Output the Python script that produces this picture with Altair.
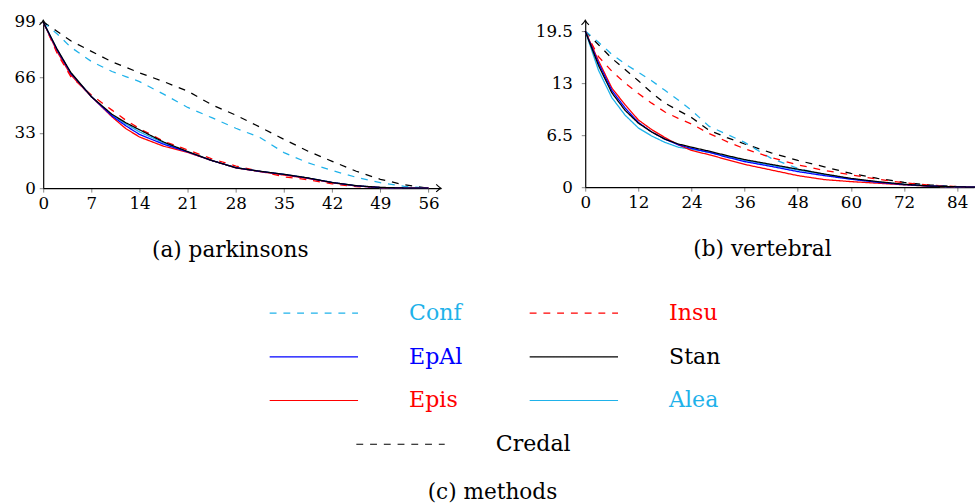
import altair as alt
import pandas as pd

FONT = "DejaVu Serif"

# Methods, in legend order, with their stroke colour and dash pattern
methods = ["Conf", "Insu", "EpAl", "Stan", "Epis", "Alea", "Credal"]
method_colors = ["#1fb2ea", "#ff0000", "#0000ff", "#000000", "#ff0000", "#1fb2ea", "#000000"]
method_dashes = [[7, 7], [7, 7], [1, 0], [1, 0], [1, 0], [1, 0], [7, 7]]
draw_order = ["Credal", "Conf", "Insu", "Alea", "Epis", "EpAl", "Stan"]

# (a) parkinsons
park_x = [0, 2, 4, 7, 10, 12, 14, 17.5, 21, 24.5, 28, 31.5, 35, 38.5, 42, 45.5, 49, 52.5, 56]
park_conf = [99, 92, 84, 75.5, 69.5, 66.5, 63.5, 56, 48.1, 42, 35.7, 30.2, 21.2, 15.1, 10.5, 6.5, 3.3, 1.1, 0]
park_insu = [99, 80.5, 66.5, 55.5, 46.5, 40.5, 35.5, 28, 22.8, 17.5, 13.2, 10, 6.8, 5, 2.6, 0.9, 0.3, 0, 0]
park_epal = [99, 82.5, 68.5, 54.5, 43, 37.2, 32, 26.2, 21.6, 16.5, 12.2, 10, 8.2, 6, 3.4, 1.4, 0.4, 0.1, 0]
park_stan = [99, 83, 69, 54.5, 44, 39, 34.8, 27.5, 21.8, 16.5, 12.2, 10.1, 8.3, 6.1, 3.4, 1.5, 0.5, 0.1, 0]
park_epis = [99, 81.5, 67.5, 54.5, 42.5, 35.5, 30.5, 25, 21.3, 16.5, 12.1, 9.9, 7.8, 5.8, 3.2, 1.3, 0.4, 0.1, 0]
park_alea = [99, 82.5, 68.5, 54.5, 43.5, 38.3, 33.5, 27, 21.6, 16.5, 12.2, 10, 8.2, 6, 3.4, 1.4, 0.4, 0.1, 0]
park_credal = [99, 93.5, 87.8, 81.5, 75.3, 72, 68.7, 63.5, 57.8, 49.7, 43.5, 36.4, 29.1, 22, 16, 10.1, 5.3, 2, 0]
park_xticks = [0, 7, 14, 21, 28, 35, 42, 49, 56]
park_yticks = [0, 33, 66, 99]

# (b) vertebral
vert_x = [0, 3, 6, 9, 12, 15, 18, 21, 24, 28, 32, 36, 42, 48, 54, 60, 66, 72, 78, 84, 88]
vert_conf = [19.5, 18.1, 16.6, 15.4, 14.35, 13.3, 12.1, 10.9, 9.6, 7.6, 6.6, 5.6, 3.6, 2.35, 1.6, 1.0, 0.6, 0.3, 0.12, 0.03, 0]
vert_insu = [19.5, 16.3, 14.5, 13.0, 11.7, 10.5, 9.4, 8.6, 7.9, 6.7, 5.7, 4.8, 3.7, 2.8, 2.1, 1.55, 1.0, 0.55, 0.25, 0.08, 0]
vert_epal = [19.5, 15.5, 12.1, 9.9, 8.1, 6.9, 6.0, 5.3, 4.85, 4.35, 3.75, 3.2, 2.6, 1.95, 1.45, 1.0, 0.62, 0.33, 0.14, 0.05, 0]
vert_stan = [19.5, 15.2, 11.8, 9.6, 8.0, 6.9, 6.0, 5.4, 5.0, 4.5, 3.95, 3.45, 2.85, 2.25, 1.65, 1.1, 0.7, 0.37, 0.15, 0.05, 0]
vert_epis = [19.5, 15.8, 12.4, 10.3, 8.4, 7.2, 6.2, 5.3, 4.6, 4.05, 3.45, 2.85, 2.15, 1.45, 0.95, 0.7, 0.5, 0.3, 0.12, 0.04, 0]
vert_alea = [19.5, 14.6, 11.2, 9.0, 7.4, 6.4, 5.6, 5.0, 4.75, 4.35, 3.85, 3.35, 2.75, 2.15, 1.6, 1.05, 0.65, 0.35, 0.14, 0.05, 0]
vert_credal = [19.5, 17.8, 16.1, 14.7, 13.3, 11.8, 10.5, 9.6, 8.7, 7.1, 6.2, 5.4, 4.3, 3.35, 2.55, 1.72, 1.1, 0.6, 0.27, 0.08, 0.02]
vert_xticks = [0, 12, 24, 36, 48, 60, 72, 84]
vert_yticks = [0, 6.5, 13, 19.5]

# Legend grid: column / row slot of each method
legend_col = [0, 1, 0, 1, 0, 1, 1 / 3]
legend_row = [0, 0, 1, 1, 2, 2, 3]

color_scale = alt.Scale(domain=methods, range=method_colors)
dash_scale = alt.Scale(domain=methods, range=method_dashes)

UP_ARROW = "M-0.8,1 Q-0.15,0.35 0,0 Q0.15,0.35 0.8,1"
RIGHT_ARROW = "M-1,-0.8 Q-0.35,-0.15 0,0 Q-0.35,0.15 -1,0.8"

AXIS_STYLE = dict(
    grid=False, labelFont=FONT, labelFontSize=17, labelColor="black",
    labelFlush=False, labelOverlap=False, labelExpr="toString(datum.value)",
    domainColor="black", domainWidth=1.2,
    tickColor="#666", tickSize=4, tickWidth=0.8,
)


def panel(xs, series, xmax, ymax, width, height, xticks, yticks,
          caption, caption_x, ylab_pad, right_arrow=True):
    rows = []
    for name, ys in series.items():
        for xv, yv in zip(xs, ys):
            rows.append({"x": xv, "y": yv, "method": name})
    df = pd.DataFrame(rows)

    x_enc = alt.X(
        "x:Q",
        scale=alt.Scale(domain=[0, xmax], nice=False, zero=False),
        axis=alt.Axis(
            values=xticks, title=caption, labelPadding=4,
            titleX=caption_x, titleAlign="center", titleFont=FONT, titleFontSize=22,
            titleFontWeight="normal", titlePadding=29, titleColor="black",
            **AXIS_STYLE,
        ),
    )
    y_enc = alt.Y(
        "y:Q",
        scale=alt.Scale(domain=[0, ymax], nice=False, zero=False),
        axis=alt.Axis(values=yticks, title=None, labelPadding=ylab_pad, **AXIS_STYLE),
    )

    layers = []
    for name in draw_order:
        layers.append(
            alt.Chart(df[df.method == name])
            .mark_line(strokeWidth=1.3)
            .encode(
                x=x_enc, y=y_enc,
                color=alt.Color("method:N", scale=color_scale, legend=None),
                strokeDash=alt.StrokeDash("method:N", scale=dash_scale, legend=None),
            )
        )

    # arrow tips at the ends of the axes
    ends = pd.DataFrame({"x": [0, xmax], "y": [ymax, 0]})
    layers.append(
        alt.Chart(ends.iloc[[0]])
        .mark_point(shape=UP_ARROW, filled=False, stroke="black", strokeWidth=1.1, size=90, opacity=1)
        .encode(x=x_enc, y=y_enc)
    )
    if right_arrow:
        layers.append(
            alt.Chart(ends.iloc[[1]])
            .mark_point(shape=RIGHT_ARROW, filled=False, stroke="black", strokeWidth=1.1, size=90, opacity=1)
            .encode(x=x_enc, y=y_enc)
        )
    return alt.layer(*layers).properties(width=width, height=height)


left = panel(
    park_x,
    {"Conf": park_conf, "Insu": park_insu, "EpAl": park_epal, "Stan": park_stan,
     "Epis": park_epis, "Alea": park_alea, "Credal": park_credal},
    57.8, 100, 405, 171, park_xticks, park_yticks,
    "(a) parkinsons", 190, 4,
)
right = panel(
    vert_x,
    {"Conf": vert_conf, "Insu": vert_insu, "EpAl": vert_epal, "Stan": vert_stan,
     "Epis": vert_epis, "Alea": vert_alea, "Credal": vert_credal},
    87.8, 20.85, 396, 170, vert_xticks, vert_yticks,
    "(b) vertebral", 180, 9, right_arrow=False,
)

# Legend block: line sample followed by the coloured method name
leg_df = pd.DataFrame({"method": methods, "col": legend_col, "row": legend_row})
lx = alt.X(
    "col:Q",
    scale=alt.Scale(domain=[-0.871, 2.679], nice=False, zero=False),
    axis=alt.Axis(
        title="(c) methods", domain=False, ticks=False, labels=False, grid=False,
        titleFont=FONT, titleFontSize=22, titleFontWeight="normal", titleColor="black",
        titleX=457, titleAlign="center", titlePadding=16,
    ),
)
ly = alt.Y("row:Q", scale=alt.Scale(domain=[-0.5, 3.5], reverse=True, nice=False, zero=False), axis=None)

leg_lines = alt.Chart(leg_df).mark_rule(x2Offset=90, strokeWidth=1.1).encode(
    x=lx, x2=alt.X2("col:Q"), y=ly,
    color=alt.Color("method:N", scale=color_scale, legend=None),
    strokeDash=alt.StrokeDash("method:N", scale=dash_scale, legend=None),
)
leg_text = alt.Chart(leg_df).mark_text(
    align="left", baseline="middle", dx=142, font=FONT, fontSize=22.5
).encode(
    x=lx, y=ly, text="method:N",
    color=alt.Color("method:N", scale=color_scale, legend=None),
)
legend = alt.layer(leg_lines, leg_text).properties(width=940, height=178)

top = alt.hconcat(left, right, spacing=93).resolve_scale(x="independent", y="independent")
chart = (
    alt.vconcat(top, legend, spacing=31)
    .resolve_scale(x="independent", y="independent")
    .properties(padding={"left": 14, "top": 8, "right": 0, "bottom": 0}, background="white")
    .configure(font=FONT)
    .configure_view(stroke=None)
)

chart.save("out.html", embed_options={"renderer": "svg", "actions": False})
